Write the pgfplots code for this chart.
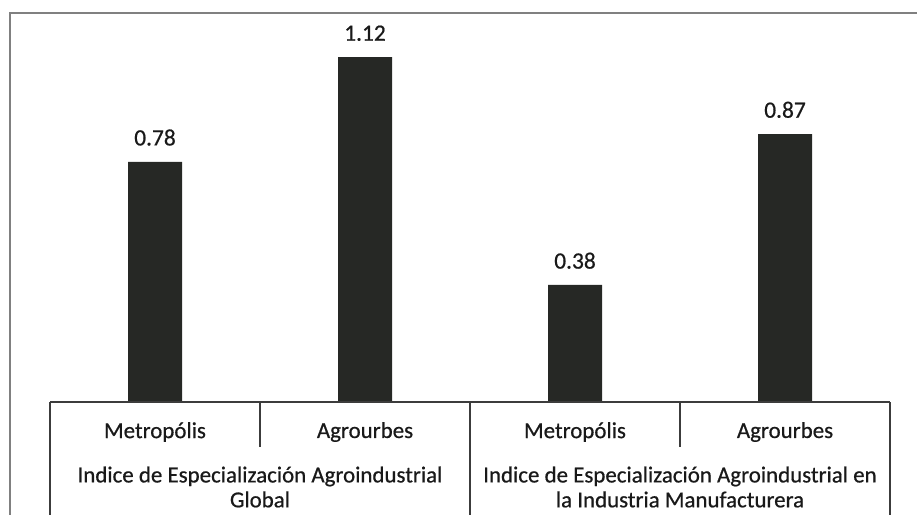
\documentclass[border=0pt]{standalone}
\usepackage{fontspec}
\setmainfont{Carlito}
\newfontface\lblfont{Carlito}[FakeBold=0.6]
\usepackage{pgfplots}
\pgfplotsset{compat=1.18}
\definecolor{barc}{RGB}{38,40,37}
\definecolor{framec}{RGB}{128,128,128}
\definecolor{tablec}{RGB}{60,60,60}
\definecolor{txtc}{RGB}{25,25,25}
\begin{document}
\begin{tikzpicture}[x=1bp,y=1bp]
\path[use as bounding box] (0,0) rectangle (917,-515);
\begin{scope}
\clip (0,0) rectangle (917,-515);
\draw[line width=2bp, framec] (10,-13) rectangle (940,-540);
\end{scope}
\begin{axis}[at={(50bp,-402bp)}, anchor=south west, scale only axis,
  width=840bp, height=388bp, xmin=-0.5, xmax=3.5, ymin=0, ymax=1.26,
  hide axis, ybar, bar width=54bp,
  nodes near coords,
  nodes near coords style={font=\lblfont\fontsize{23.5}{23.5}\selectfont, text=txtc, anchor=south, inner sep=0pt, yshift=16bp, /pgf/number format/assume math mode=true, /pgf/number format/fixed, /pgf/number format/precision=2},
  clip=false]
\addplot[fill=barc, draw=none] coordinates {(0,0.78) (1,1.12) (2,0.38) (3,0.87)};
\end{axis}
\begin{scope}[tablec, line width=1.3bp]
\draw (50,-402) -- (890,-402);
\draw (50,-402) -- (50,-530);
\draw (470,-402) -- (470,-530);
\draw (890,-402) -- (890,-530);
\draw (260,-402) -- (260,-447);
\draw (680,-402) -- (680,-447);
\end{scope}
\begin{scope}[every node/.style={font=\lblfont\fontsize{23}{25}\selectfont, text=txtc, align=center, inner sep=0pt}]
\node at (155,-432) {Metropólis};
\node at (365,-432) {Agrourbes};
\node at (575,-432) {Metropólis};
\node at (785,-432) {Agrourbes};
\node at (260,-487) {Indice de Especialización Agroindustrial\\Global};
\node at (680,-487) {Indice de Especialización Agroindustrial en\\la Industria Manufacturera};
\end{scope}
\end{tikzpicture}
\end{document}
